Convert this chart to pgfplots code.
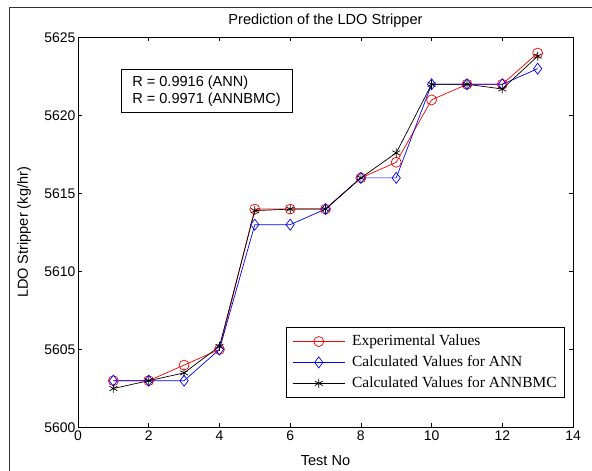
\documentclass[border=0pt]{standalone}
\usepackage{fontspec}
\setmainfont{Liberation Sans}
\newfontfamily\timesf{Liberation Serif}
\usepackage{pgfplots}
\pgfplotsset{compat=1.18}
\begin{document}
\begin{tikzpicture}[x=1bp,y=1bp]
\useasboundingbox (0,0) rectangle (592,471);
\fill[white] (0,0) rectangle (592,471);
\draw[line width=0.8bp, black!80] (9,-2) -- (9,464) -- (594,464);
\begin{axis}[
  at={(78bp,43.5bp)}, anchor=south west,
  scale only axis, width=495bp, height=390bp,
  xmin=0, xmax=14, ymin=5600, ymax=5625,
  xtick={0,2,...,14}, ytick={5600,5605,...,5625},
  tick align=inside, major tick length=4bp,
  axis line style={line width=0.8bp},
  every tick/.style={line width=0.6bp, black},
  /pgf/number format/assume math mode=true,
  /pgf/number format/1000 sep={},
  ticklabel style={font=\fontsize{14}{16}\selectfont},
  yticklabel style={xshift=1bp},
  legend style={at={(0.984,0.0764)}, anchor=south east, draw=black, line width=0.8bp,
    font=\timesf\fontsize{15.5}{18}\selectfont, row sep=0bp, inner xsep=6bp, inner ysep=3.5bp,
    nodes={text height=11bp, text depth=3.5bp, inner ysep=3.2bp},
    cells={anchor=west}},
  legend image code/.code={\draw[mark repeat=2,mark phase=2] plot coordinates {(0bp,0bp)(26bp,0bp)(52bp,0bp)};},
]
\addplot[red, line width=0.7bp, mark=o, mark size=5bp, mark options={line width=0.7bp}] coordinates {
(1,5603)(2,5603)(3,5604)(4,5605)(5,5614)(6,5614)(7,5614)(8,5616)(9,5617)(10,5621)(11,5622)(12,5622)(13,5624)};
\addlegendentry{\hspace{5bp}Experimental Values}
\addplot[blue, line width=0.7bp, mark=diamond, mark size=5.5bp, mark options={line width=0.7bp}] coordinates {
(1,5603)(2,5603)(3,5603)(4,5605)(5,5613)(6,5613)(7,5614)(8,5616)(9,5616)(10,5622)(11,5622)(12,5622)(13,5623)};
\addlegendentry{\hspace{5bp}Calculated Values for ANN}
\addplot[black, line width=0.7bp, mark=asterisk, mark size=4.5bp, mark options={line width=0.7bp}] coordinates {
(1,5602.5)(2,5603)(3,5603.5)(4,5605.2)(5,5613.9)(6,5614)(7,5614)(8,5616)(9,5617.6)(10,5622)(11,5622)(12,5621.7)(13,5623.8)};
\addlegendentry{\hspace{5bp}Calculated Values for ANNBMC\hspace{10bp}}
\node[draw=black, line width=0.8bp, anchor=north west, minimum width=171bp, minimum height=43bp,
  inner xsep=8bp, align=left, font=\fontsize{14.6}{17}\selectfont] at (rel axis cs:0.086,0.919)
  {R = 0.9916 (ANN)\\R = 0.9971 (ANNBMC)};
\end{axis}
\node[font=\fontsize{14.6}{17}\selectfont] at (325.5,450) {Prediction of the LDO Stripper};
\node[font=\fontsize{14.6}{17}\selectfont] at (325.5,10) {Test No};
\node[font=\fontsize{14.6}{17}\selectfont, rotate=90] at (24,238.5) {LDO Stripper (kg/hr)};
\end{tikzpicture}
\end{document}
